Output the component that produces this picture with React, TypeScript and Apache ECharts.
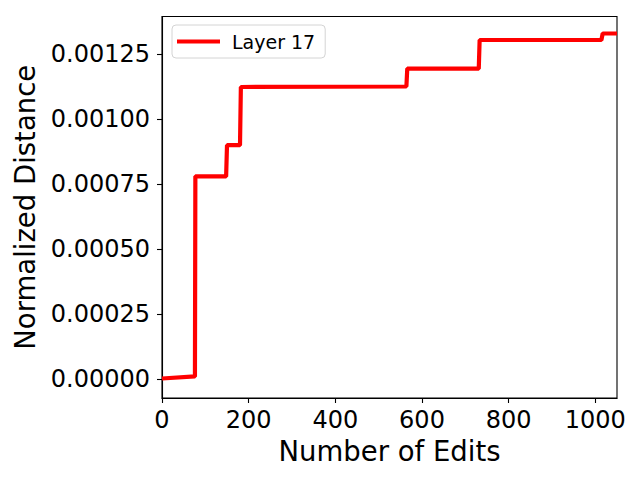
import React, { useEffect, useRef } from "react";
import * as echarts from "echarts";

const seriesName = "Layer 17";
const xTicks = [0, 200, 400, 600, 800, 1000];
const yTicks = [0, 0.00025, 0.0005, 0.00075, 0.001, 0.00125];
const edits = [0, 76, 77, 148, 150, 180, 182, 564, 566, 731, 733, 1014, 1017, 1050];
const distance = [
  0.000002, 0.00001, 0.00078, 0.00078, 0.0009, 0.0009, 0.001124, 0.001126,
  0.001195, 0.001195, 0.001305, 0.001305, 0.00133, 0.00133,
];

const FONT = "DejaVu Sans";

export default function App() {
  const ref = useRef<HTMLDivElement>(null);
  useEffect(() => {
    if (!ref.current) return;
    const chart = echarts.init(ref.current, null, { renderer: "svg" });
    const data = edits.map((x, i) => [x, distance[i]]);
    chart.setOption({
      animation: false,
      backgroundColor: "#fff",
      textStyle: { fontFamily: FONT },
      grid: {
        left: 162,
        right: 23,
        top: 16.5,
        bottom: 82,
        show: true,
        borderColor: "#000",
        borderWidth: 1.1,
        backgroundColor: "transparent",
      },
      legend: {
        left: 172,
        top: 25,
        padding: [7, 10, 7, 5],
        itemWidth: 43,
        itemHeight: 4,
        borderColor: "#d4d4d4",
        borderWidth: 1,
        borderRadius: 4,
        backgroundColor: "#fff",
        textStyle: { fontFamily: FONT, fontSize: 19, color: "#000", padding: [0, 0, 0, 7] },
        data: [{ name: seriesName, icon: "rect" }],
        itemStyle: { color: "#ff0000" },
      },
      xAxis: {
        type: "value",
        min: 0,
        max: 1050,
        name: "Number of Edits",
        nameLocation: "middle",
        nameGap: 36,
        nameTextStyle: { fontFamily: FONT, fontSize: 27.5, color: "#000" },
        splitLine: { show: false },
        axisLine: { show: true, onZero: false, lineStyle: { color: "#000", width: 1.1 } },
        axisTick: { show: true, customValues: xTicks, length: 5, lineStyle: { color: "#000", width: 1.1 } },
        axisLabel: {
          customValues: xTicks,
          fontFamily: FONT,
          fontSize: 24,
          color: "#000",
          margin: 10,
          formatter: (v: number) => String(v),
        },
      },
      yAxis: {
        type: "value",
        min: -0.0000731,
        max: 0.0013954,
        name: "Normalized Distance",
        nameLocation: "middle",
        nameGap: 123,
        nameTextStyle: { fontFamily: FONT, fontSize: 27.5, color: "#000" },
        splitLine: { show: false },
        axisLine: { show: true, onZero: false, lineStyle: { color: "#000", width: 1.1 } },
        axisTick: { show: true, customValues: yTicks, length: 5, lineStyle: { color: "#000", width: 1.1 } },
        axisLabel: {
          customValues: yTicks,
          fontFamily: FONT,
          fontSize: 24,
          color: "#000",
          margin: 12,
          formatter: (v: number) => v.toFixed(5),
        },
      },
      series: [
        {
          name: seriesName,
          type: "line",
          data,
          symbol: "none",
          showSymbol: false,
          lineStyle: { color: "#ff0000", width: 4.2 },
          itemStyle: { color: "#ff0000" },
        },
      ],
    });
    return () => chart.dispose();
  }, []);
  return <div ref={ref} style={{ width: 640, height: 480, position: "absolute", left: 0, top: 0 }} />;
}
